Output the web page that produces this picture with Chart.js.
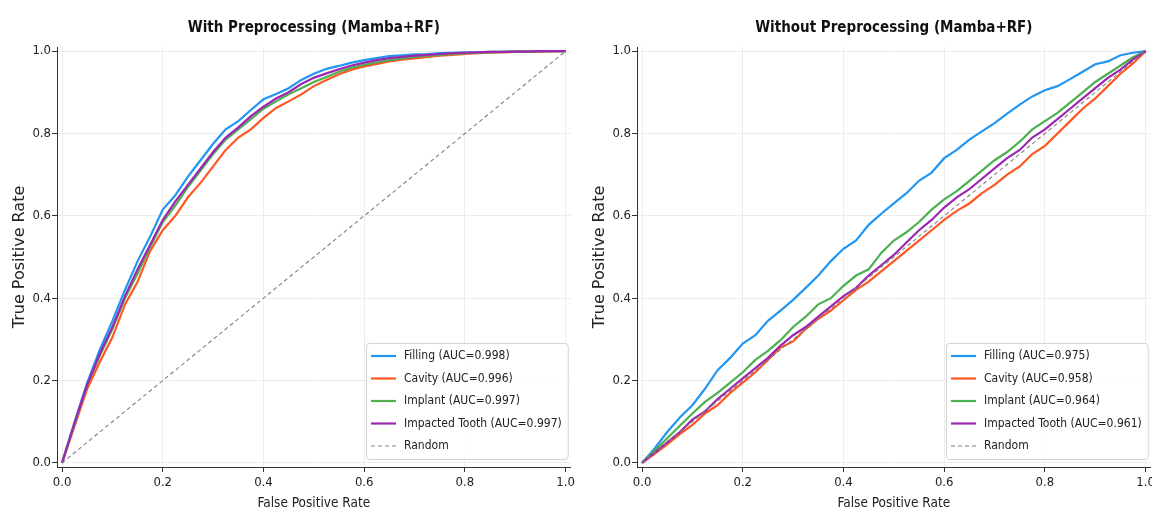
<!DOCTYPE html>
<html>
<head>
<meta charset="utf-8">
<script src="https://cdn.jsdelivr.net/npm/chart.js@4.4.0/dist/chart.umd.min.js"></script>
<style>
  html, body { margin: 0; padding: 0; background: #fff; overflow: hidden; width: 1152px; height: 514px; }
  canvas { position: absolute; top: 0; }
  #left { left: 0; }
  #right { left: 580px; }
</style>
</head>
<body>
<canvas id="left" width="578" height="514"></canvas>
<canvas id="right" width="578" height="514"></canvas>
<script>
// shared false positive rate grid (x values of every curve)
const fpr = [0, 0.025, 0.05, 0.075, 0.1, 0.125, 0.15, 0.175, 0.2, 0.225,
    0.25, 0.275, 0.3, 0.325, 0.35, 0.375, 0.4, 0.425, 0.45, 0.475,
    0.5, 0.525, 0.55, 0.575, 0.6, 0.625, 0.65, 0.675, 0.7, 0.725,
    0.75, 0.775, 0.8, 0.825, 0.85, 0.875, 0.9, 0.925, 0.95, 0.975, 1]

const classNames = ['Filling', 'Cavity', 'Implant', 'Impacted Tooth']
const axisTicks = [0, 0.2, 0.4, 0.6, 0.8, 1.0]

// With preprocessing
const withAuc = [0.998, 0.996, 0.997, 0.997]
const withFilling = [0, 0.10, 0.195, 0.275, 0.345, 0.42, 0.49, 0.55, 0.615, 0.65,
    0.695, 0.735, 0.775, 0.81, 0.83, 0.857, 0.883, 0.896, 0.91, 0.93,
    0.945, 0.957, 0.964, 0.972, 0.978, 0.983, 0.988, 0.99, 0.992, 0.993,
    0.995, 0.996, 0.997, 0.997, 0.998, 0.998, 0.999, 0.999, 1, 1, 1]
const withCavity = [0, 0.09, 0.18, 0.245, 0.305, 0.385, 0.44, 0.515, 0.565, 0.60,
    0.645, 0.68, 0.72, 0.76, 0.79, 0.81, 0.838, 0.862, 0.878, 0.895,
    0.915, 0.93, 0.944, 0.955, 0.963, 0.969, 0.975, 0.979, 0.982, 0.986,
    0.989, 0.991, 0.993, 0.995, 0.996, 0.997, 0.998, 0.999, 0.999, 1, 1]
const withImplant = [0, 0.095, 0.19, 0.26, 0.325, 0.40, 0.46, 0.525, 0.585, 0.625,
    0.67, 0.71, 0.75, 0.785, 0.81, 0.835, 0.86, 0.878, 0.895, 0.91,
    0.925, 0.937, 0.95, 0.96, 0.967, 0.973, 0.978, 0.982, 0.986, 0.989,
    0.991, 0.993, 0.995, 0.996, 0.997, 0.998, 0.999, 0.999, 1, 1, 1]
const withImpacted = [0, 0.097, 0.19, 0.265, 0.33, 0.405, 0.47, 0.53, 0.59, 0.635,
    0.675, 0.715, 0.755, 0.79, 0.815, 0.842, 0.865, 0.885, 0.90, 0.92,
    0.935, 0.946, 0.956, 0.965, 0.972, 0.978, 0.983, 0.986, 0.989, 0.991,
    0.993, 0.995, 0.996, 0.997, 0.998, 0.998, 0.999, 0.999, 1, 1, 1]

// Without preprocessing
const withoutAuc = [0.975, 0.958, 0.964, 0.961]
const withoutFilling = [0, 0.035, 0.075, 0.11, 0.14, 0.18, 0.225, 0.255, 0.29, 0.31,
    0.345, 0.37, 0.396, 0.425, 0.455, 0.49, 0.52, 0.54, 0.578, 0.605,
    0.63, 0.655, 0.685, 0.705, 0.74, 0.76, 0.785, 0.805, 0.825, 0.848,
    0.87, 0.89, 0.905, 0.915, 0.932, 0.95, 0.968, 0.975, 0.99, 0.996, 1]
const withoutCavity = [0, 0.022, 0.045, 0.07, 0.092, 0.12, 0.14, 0.17, 0.195, 0.22,
    0.25, 0.28, 0.295, 0.325, 0.35, 0.37, 0.395, 0.42, 0.44, 0.465,
    0.49, 0.515, 0.54, 0.565, 0.59, 0.612, 0.63, 0.655, 0.675, 0.70,
    0.72, 0.75, 0.77, 0.80, 0.83, 0.86, 0.885, 0.915, 0.945, 0.97, 1]
const withoutImplant = [0, 0.03, 0.06, 0.09, 0.12, 0.148, 0.17, 0.195, 0.22, 0.25,
    0.272, 0.298, 0.33, 0.355, 0.385, 0.40, 0.43, 0.455, 0.47, 0.51,
    0.54, 0.56, 0.585, 0.615, 0.64, 0.66, 0.685, 0.71, 0.735, 0.755,
    0.78, 0.81, 0.83, 0.85, 0.875, 0.90, 0.925, 0.945, 0.965, 0.985, 1]
const withoutImpacted = [0, 0.025, 0.05, 0.075, 0.105, 0.125, 0.155, 0.18, 0.205, 0.23,
    0.255, 0.285, 0.31, 0.33, 0.355, 0.38, 0.405, 0.425, 0.455, 0.48,
    0.505, 0.535, 0.565, 0.59, 0.62, 0.645, 0.665, 0.69, 0.715, 0.74,
    0.76, 0.79, 0.81, 0.835, 0.86, 0.885, 0.91, 0.935, 0.955, 0.98, 1]

const randomLine = [0, 1]

const colors = ['#2196F3', '#FF5722', '#4CAF50', '#9C27B0']
const condensed = '"DejaVu Sans Condensed", "DejaVu Sans", sans-serif'

// legend drawn inside the plot, bottom right (like matplotlib loc='lower right')
const legendBox = {
    id: 'legendBox',
    afterDraw(chart) {
        const { ctx, chartArea } = chart
        const items = chart.data.datasets
        ctx.save()
        ctx.font = '12px ' + condensed
        const textW = Math.max(...items.map(d => ctx.measureText(d.label).width))
        const rowH = 22.5
        const w = 5 + 25 + 8 + textW + 6
        const h = 26 + rowH * (items.length - 1)
        const x = Math.round(chartArea.right - 3 - w)
        const y = Math.round(chartArea.bottom - 8 - h)
        ctx.fillStyle = 'rgba(255,255,255,0.85)'
        ctx.strokeStyle = '#d4d4d4'
        ctx.lineWidth = 1
        ctx.beginPath()
        ctx.roundRect(x + 0.5, y + 0.5, w, h, 3)
        ctx.fill()
        ctx.stroke()
        items.forEach(function (d, i) {
            const cy = y + 13 + i * rowH
            ctx.strokeStyle = d.borderColor
            ctx.lineWidth = d.borderWidth
            ctx.setLineDash(d.borderDash || [])
            ctx.beginPath()
            ctx.moveTo(x + 5, cy)
            ctx.lineTo(x + 30, cy)
            ctx.stroke()
            ctx.setLineDash([])
            ctx.fillStyle = '#222'
            ctx.textBaseline = 'middle'
            ctx.fillText(d.label, x + 38, cy)
        })
        ctx.restore()
    },
}

function toPoints(ys) {
    return ys.map((y, i) => ({ x: fpr[i], y: y }))
}

function makeAxis(titleText, isX) {
    const axis = {
        type: 'linear',
        min: -0.01,
        max: 1.01,
        afterBuildTicks: s => { s.ticks = axisTicks.map(v => ({ value: v })) },
        grid: { color: '#ececec', lineWidth: 1, tickColor: '#333', tickLength: 5, drawTicks: true },
        border: { display: true, color: '#333', width: 1 },
        ticks: {
            color: '#222',
            padding: isX ? 3 : 1,
            maxRotation: 0,
            font: { family: condensed, size: 13 },
            callback: v => v.toFixed(1),
        },
        title: {
            display: true,
            text: titleText,
            color: '#222',
        },
    }
    if (isX) {
        axis.afterFit = s => { s.height = 47 }
        axis.title.font = { family: condensed, size: 13.5 }
        axis.title.padding = { top: 0, bottom: 2 }
    } else {
        axis.afterFit = s => { s.width = 57 }
        axis.title.font = { family: '"DejaVu Sans", sans-serif', size: 16 }
        axis.title.padding = { top: 10, bottom: 0 }
    }
    return axis
}

function makeChart(id, titleText, aucs, curves, padRight) {
    const datasets = curves.map((ys, i) => ({
        label: classNames[i] + ' (AUC=' + aucs[i].toFixed(3) + ')',
        data: toPoints(ys),
        borderColor: colors[i],
        borderWidth: 2.2,
        pointRadius: 0,
        fill: false,
        tension: 0,
        order: 5 - i,
    }))
    datasets.push({
        label: 'Random',
        data: randomLine.map(v => ({ x: v, y: v })),
        borderColor: '#808080',
        borderWidth: 1.1,
        borderDash: [4, 3],
        pointRadius: 0,
        fill: false,
        order: 0,
    })

    return new Chart(document.getElementById(id), {
        type: 'line',
        data: { datasets: datasets },
        options: {
            responsive: false,
            animation: false,
            layout: { padding: { left: 0, right: padRight, top: 0, bottom: 0 } },
            plugins: {
                legend: { display: false },
                tooltip: { enabled: false },
                title: {
                    display: true,
                    text: titleText,
                    fullSize: false,
                    color: '#111',
                    font: { family: condensed, size: 15, weight: 'bold' },
                    padding: { top: 19, bottom: 10 },
                },
            },
            scales: {
                x: makeAxis('False Positive Rate', true),
                y: makeAxis('True Positive Rate', false),
            },
        },
        plugins: [legendBox],
    })
}

makeChart('left', 'With Preprocessing (Mamba+RF)', withAuc,
    [withFilling, withCavity, withImplant, withImpacted], 3)
makeChart('right', 'Without Preprocessing (Mamba+RF)', withoutAuc,
    [withoutFilling, withoutCavity, withoutImplant, withoutImpacted], 4)
</script>
</body>
</html>
